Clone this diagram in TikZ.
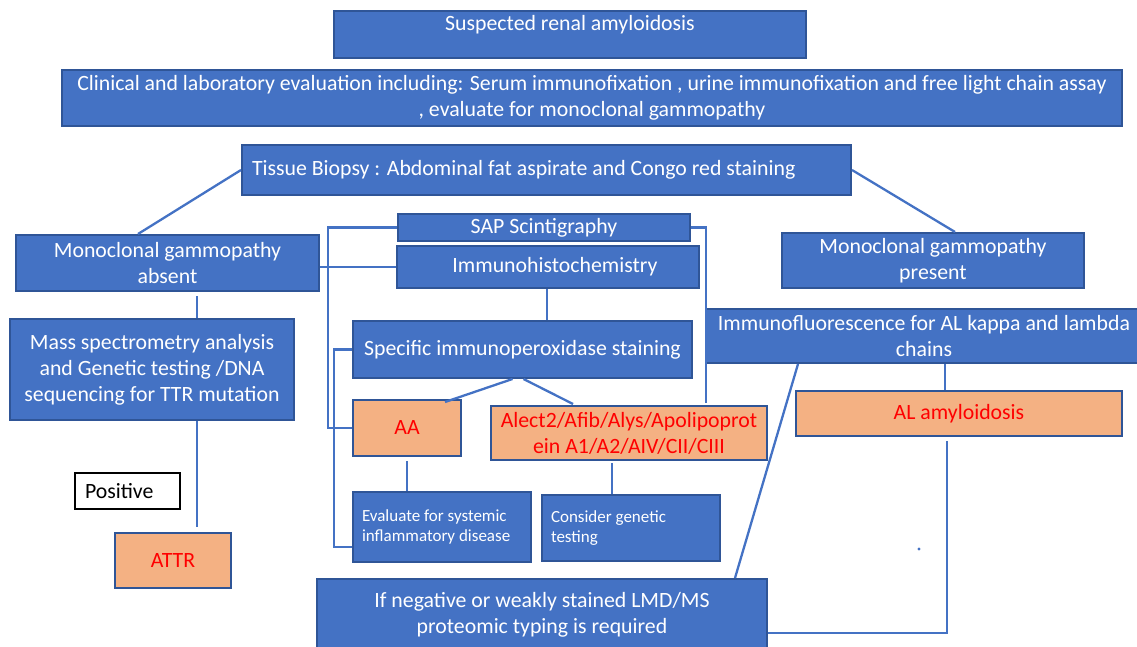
\documentclass[tikz,border=0pt]{standalone}
\usepackage{fontspec}
\setmainfont{Carlito}
\definecolor{blu}{HTML}{4472C4}
\definecolor{bdr}{HTML}{2F5597}
\definecolor{org}{HTML}{F4B183}
\definecolor{redt}{HTML}{FF0000}
\begin{document}
\begin{tikzpicture}[x=1pt,y=-1pt,
  box/.style={draw=bdr, fill=blu, line width=2pt, text=white, align=center, inner sep=0pt,
    font=\fontsize{21.8}{26}\selectfont},
  obox/.style={box, fill=org, text=redt},
  small/.style={box, font=\fontsize{17}{20}\selectfont, align=flush left, text width=#1},
  conn/.style={draw=blu, line width=2.3pt}]
\useasboundingbox (0,0) rectangle (1137,647);
% boxes
\node[box, minimum width=472pt, anchor=north, text height=14pt, text depth=22pt, inner ysep=5.5pt] (susp) at (570,10) {Suspected renal amyloidosis};
\node[box, minimum width=1060pt, minimum height=56pt] (clin) at (592,98) {Clinical and laboratory evaluation including: Serum immunofixation , urine immunofixation and free light chain assay\\, evaluate for monoclonal gammopathy};
\node[box, minimum width=609pt, minimum height=50pt] (tissue) at (546.5,170) {\makebox[589pt][l]{Tissue Biopsy : Abdominal fat aspirate and Congo red staining}};
\node[box, minimum width=303pt, minimum height=56pt] (absent) at (167.5,263) {Monoclonal gammopathy\\absent};
\node[box, minimum width=292pt, minimum height=27pt] (sap) at (544,227.5) {SAP Scintigraphy};
\node[box, minimum width=302pt, minimum height=42pt] (ihc) at (548,267) {\hspace*{14pt}Immunohistochemistry};
\node[box, minimum width=302pt, minimum height=55pt] (present) at (933,260.5) {Monoclonal gammopathy\\present};
\node[box, minimum width=284pt, minimum height=101pt] (mass) at (152,369.5) {Mass spectrometry analysis\\and Genetic testing /DNA\\sequencing for TTR mutation};
\node[box, minimum width=339pt, minimum height=57pt] (spec) at (522.5,349.5) {Specific immunoperoxidase staining};
\node[box, minimum width=436pt, minimum height=54pt] (ifl) at (924,336) {Immunofluorescence for AL kappa and lambda\\chains};
\node[obox, minimum width=108pt, minimum height=56pt] (aa) at (407,428) {AA};
\node[obox, minimum width=276pt, minimum height=54pt] (alect) at (629,433) {Alect2/Afib/Alys/Apolipoprot\\ein A1/A2/AIV/CII/CIII};
\node[obox, minimum width=326pt, minimum height=45pt] (al) at (959,413.5) {AL amyloidosis};
\node[draw=black, fill=white, line width=2.6pt, minimum width=105pt, minimum height=36pt, font=\fontsize{21.8}{26}\selectfont, inner sep=0pt] (pos) at (127.5,491) {\makebox[85pt][l]{Positive}};
\node[obox, minimum width=116pt, minimum height=55pt] (attr) at (173,560.5) {ATTR};
\node[small=160pt, minimum width=178pt, minimum height=70pt] (eval) at (442,527) {Evaluate for systemic\\inflammatory disease};
\node[small=160pt, minimum width=178pt, minimum height=66pt] (cons) at (631,528) {Consider genetic\\testing};
\node[box, minimum width=450pt, minimum height=72pt] (neg) at (542,615) {If negative or weakly stained LMD/MS\\proteomic typing is required};
\fill[blu] (919,549) circle (1.6pt);
% connectors
\path[conn] (tissue.west) -- ([xshift=-29.5pt]absent.north);
\path[conn] (tissue.east) -- ([xshift=22pt]present.north);
\path[conn] ([xshift=29.5pt,yshift=-4pt]absent.south) -- ([xshift=29.5pt]absent.south |- mass.north);
\path[conn] (absent.east |- ihc.west) -- (ihc.west);
\path[conn] (sap.west) -- ++(-69,0) |- (aa.west);
\path[conn] (spec.west) -- ++(-18,0) |- ([yshift=-20pt]eval.west);
\path[conn] ([xshift=-1pt]ihc.south) -- ([xshift=-1pt]ihc.south |- spec.north);
\path[conn] ([xshift=-10pt]spec.south) -- ([xshift=38pt,yshift=-3pt]aa.north);
\path[conn] ([xshift=1pt]spec.south) -- ([xshift=-56pt,yshift=1pt]alect.north);
\path[conn] (sap.east) -| ([xshift=77pt,yshift=2pt]alect.north);
\path[conn] ([xshift=-126pt]ifl.south) -- ([xshift=193pt]neg.north);
\path[conn] ([xshift=-14pt]al.north |- ifl.south) -- ([xshift=-14pt]al.north);
\path[conn] ([xshift=-12pt,yshift=-4pt]al.south) |- ([yshift=-18pt]neg.east);
\path[conn] ([yshift=-4pt]aa.south) -- (aa.south |- eval.north);
\path[conn] ([xshift=-17pt,yshift=-2pt]alect.south) -- ([xshift=-17pt]alect.south |- cons.north);
\path[conn] ([xshift=45pt]mass.south) -- ([xshift=45pt,yshift=5pt]mass.south |- attr.north);
\end{tikzpicture}
\end{document}
